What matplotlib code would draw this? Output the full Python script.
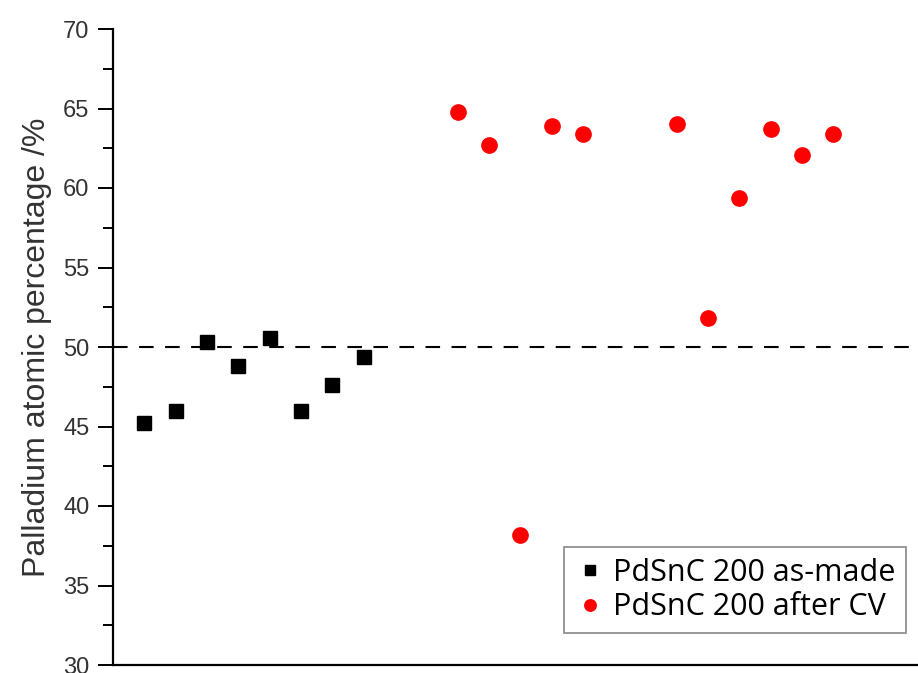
import numpy as np
import matplotlib.pyplot as plt
from matplotlib.ticker import MultipleLocator

# sample index along x (no x axis labels in the original)
x_made = [1, 2, 3, 4, 5, 6, 7, 8]
pd_made = [45.2, 46.0, 50.3, 48.8, 50.55, 45.95, 47.6, 49.4]

x_cv = [11, 12, 13, 14, 15, 18, 19, 20, 21, 22, 23]
pd_cv = [64.75, 62.7, 38.2, 63.9, 63.4, 64.0, 51.8, 59.35, 63.7, 62.1, 63.4]

fig = plt.figure(figsize=(9.18, 6.73), dpi=100)
ax = fig.add_axes([113/918, 8/673, 1 - 113/918, (665 - 29)/673])

ax.plot(x_made, pd_made, 's', color='black', markersize=9.4, linestyle='none',
        label='PdSnC 200 as-made')
ax.plot(x_cv, pd_cv, 'o', color='red', markersize=11, linestyle='none',
        label='PdSnC 200 after CV')
ax.axhline(50, color='black', linewidth=1.5, linestyle=(0, (7, 5.5)), zorder=1)

ax.set_xlim(0, 25.7)
ax.set_ylim(30, 70)
ax.yaxis.set_major_locator(MultipleLocator(5))
ax.yaxis.set_minor_locator(MultipleLocator(2.5))
ax.set_xticks([])
ax.spines['top'].set_visible(False)
ax.spines['right'].set_visible(False)
ax.spines['left'].set_linewidth(1.6)
ax.spines['bottom'].set_linewidth(1.6)
ax.tick_params(axis='y', which='major', direction='out', length=11, width=1.4,
               labelsize=17, pad=6, labelcolor='#333333')
ax.tick_params(axis='y', which='minor', direction='out', length=7, width=1.4)
for t in ax.get_yticklabels():
    t.set_fontfamily('Liberation Sans')

ax.set_ylabel('Palladium atomic percentage /%', fontsize=23,
              family='Liberation Sans', color='#333333', labelpad=8)

leg = ax.legend(loc='upper left', bbox_to_anchor=(564/918, 1 - 547/673),
                bbox_transform=fig.transFigure, borderaxespad=0,
                prop={'family': 'Open Sans', 'size': 22},
                handlelength=1.0, handletextpad=0.25, markerscale=0.75,
                fancybox=False, framealpha=1, edgecolor='#888888',
                borderpad=0.35, labelspacing=0.15)
leg.get_frame().set_linewidth(1.2)

plt.savefig('out.png', dpi=100)
